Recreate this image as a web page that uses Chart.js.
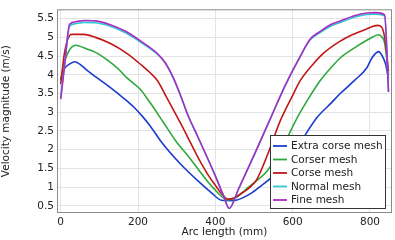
<!DOCTYPE html>
<html>
<head>
<meta charset="utf-8">
<script src="https://cdn.jsdelivr.net/npm/chart.js@4.4.1/dist/chart.umd.min.js"></script>
<style>
  html, body { margin: 0; padding: 0; background: #fff; }
  #wrap { width: 395px; height: 240px; position: relative; }
</style>
</head>
<body>
<div id="wrap"><canvas id="chart"></canvas></div>
<script>
// --- DATA ---
const seriesNames = ['Extra corse mesh', 'Corser mesh', 'Corse mesh', 'Normal mesh', 'Fine mesh'];
const xTicks = [0, 200, 400, 600, 800];
const yTicks = [0.5, 1, 1.5, 2, 2.5, 3, 3.5, 4, 4.5, 5, 5.5];

const extraX = [0, 10, 25, 36, 50, 66, 90, 127, 160, 187, 213, 231, 261, 308, 360, 390, 416, 446, 490, 520, 550, 580, 620, 662, 700, 723, 760, 792, 805, 822, 832, 840, 848];
const extraY = [3.9, 4.17, 4.3, 4.35, 4.28, 4.14, 3.95, 3.67, 3.4, 3.16, 2.87, 2.64, 2.2, 1.64, 1.12, 0.85, 0.65, 0.64, 0.82, 1.05, 1.3, 1.65, 2.2, 2.85, 3.25, 3.5, 3.85, 4.19, 4.45, 4.62, 4.5, 4.3, 3.9];

const corserX = [0, 10, 25, 40, 60, 90, 120, 150, 170, 205, 231, 265, 300, 326, 360, 380, 400, 420, 432, 450, 480, 510, 533, 560, 585, 610, 640, 671, 700, 723, 760, 800, 822, 830, 838, 848];
const corserY = [3.85, 4.35, 4.7, 4.79, 4.72, 4.6, 4.4, 4.15, 3.93, 3.62, 3.26, 2.74, 2.2, 1.88, 1.42, 1.15, 0.92, 0.72, 0.66, 0.7, 0.95, 1.2, 1.42, 1.85, 2.3, 2.82, 3.35, 3.84, 4.2, 4.45, 4.72, 4.97, 5.07, 5.02, 4.85, 4.0];

const corseX = [0, 10, 28, 58, 90, 130, 170, 210, 230, 250, 274, 313, 340, 360, 380, 400, 420, 432, 450, 470, 490, 507, 540, 567, 600, 620, 650, 680, 720, 750, 790, 820, 830, 838, 848];
const corseY = [3.75, 4.6, 5.08, 5.08, 5.0, 4.83, 4.58, 4.25, 4.07, 3.85, 3.4, 2.65, 2.1, 1.7, 1.35, 1.05, 0.78, 0.68, 0.72, 0.85, 1.0, 1.2, 2.0, 2.75, 3.45, 3.85, 4.25, 4.58, 4.88, 5.05, 5.22, 5.32, 5.28, 5.0, 4.1];

const normalX = [0, 10, 23, 40, 60, 90, 130, 170, 210, 250, 270, 290, 310, 330, 350, 370, 400, 420, 436, 460, 500, 541, 580, 620, 645, 670, 700, 723, 760, 792, 815, 838, 848];
const normalY = [3.4, 4.25, 5.3, 5.37, 5.4, 5.39, 5.29, 5.11, 4.85, 4.55, 4.32, 3.94, 3.45, 2.9, 2.45, 2.0, 1.3, 0.8, 0.43, 0.95, 1.85, 2.8, 3.7, 4.5, 4.93, 5.12, 5.31, 5.4, 5.54, 5.61, 5.62, 5.57, 3.55];

const fineX = [0, 10, 23, 40, 60, 90, 130, 170, 210, 250, 270, 290, 310, 330, 350, 370, 400, 420, 436, 460, 500, 541, 580, 620, 645, 670, 700, 723, 760, 792, 815, 838, 848];
const fineY = [3.35, 4.25, 5.35, 5.42, 5.45, 5.44, 5.33, 5.15, 4.88, 4.57, 4.33, 3.95, 3.45, 2.9, 2.45, 2.0, 1.3, 0.8, 0.43, 0.95, 1.85, 2.8, 3.7, 4.5, 4.95, 5.15, 5.35, 5.44, 5.58, 5.65, 5.66, 5.6, 3.54];

const colors = ['#1a3ccc', '#2ea83c', '#c01818', '#30c8d0', '#a92cc4'];

const FONT = 'DejaVu Sans';
const TEXT = '#222';

function toPoints(xs, ys) {
    return xs.map((x, i) => ({ x: x, y: ys[i] }));
}

const allX = [extraX, corserX, corseX, normalX, fineX];
const allY = [extraY, corserY, corseY, normalY, fineY];

const datasets = seriesNames.map((name, i) => ({
    label: name,
    data: toPoints(allX[i], allY[i]),
    borderColor: colors[i],
    backgroundColor: colors[i],
    borderWidth: 1.6,
    pointRadius: 0,
    cubicInterpolationMode: 'monotone',
    order: seriesNames.length - i  // fine mesh on top
}));

// legend box + plot frame, drawn by hand (legend sits inside the plot)
const framePlugin = {
    id: 'frameAndLegend',
    afterDatasetsDraw(chart) {
        const ctx = chart.ctx;
        const a = chart.chartArea;
        ctx.save();
        ctx.strokeStyle = '#8a8a8a';
        ctx.lineWidth = 1;
        ctx.strokeRect(a.left + 0.5, a.top + 0.5, a.right - a.left - 1, a.bottom - a.top - 1);

        // legend
        const lx = 270, ly = 135, lw = 115, lh = 73;
        ctx.fillStyle = '#fff';
        ctx.fillRect(lx, ly, lw, lh);
        ctx.strokeStyle = '#333';
        ctx.strokeRect(lx + 0.5, ly + 0.5, lw, lh);
        ctx.font = '10.5px "' + FONT + '"';
        ctx.textBaseline = 'middle';
        ctx.textAlign = 'left';
        seriesNames.forEach((name, i) => {
            const y = ly + 11 + i * 13.5;
            ctx.strokeStyle = colors[i];
            ctx.lineWidth = 1.8;
            ctx.beginPath();
            ctx.moveTo(lx + 3, y);
            ctx.lineTo(lx + 17, y);
            ctx.stroke();
            ctx.fillStyle = TEXT;
            ctx.fillText(name, lx + 21, y + 0.5);
        });
        ctx.restore();
    }
};

new Chart(document.getElementById('chart'), {
    type: 'line',
    data: { datasets: datasets },
    options: {
        responsive: true,
        maintainAspectRatio: false,
        animation: false,
        layout: { padding: { top: 3, right: 3, left: 0, bottom: 0 } },
        plugins: {
            legend: { display: false },
            tooltip: { enabled: false }
        },
        scales: {
            x: {
                type: 'linear',
                min: -9.6,
                max: 857,
                afterBuildTicks: scale => { scale.ticks = xTicks.map(v => ({ value: v })); },
                afterFit: scale => { scale.height = 27; },
                grid: { color: '#e4e4e4', drawTicks: false },
                border: { display: false },
                ticks: { color: TEXT, font: { family: FONT, size: 10.5 }, padding: 3, maxRotation: 0, callback: v => String(v) },
                title: { display: true, text: 'Arc length (mm)', color: TEXT, font: { family: FONT, size: 10.5 }, padding: { top: 0, bottom: 1 } }
            },
            y: {
                type: 'linear',
                min: 0.31,
                max: 5.75,
                afterBuildTicks: scale => { scale.ticks = yTicks.map(v => ({ value: v })); },
                afterFit: scale => { scale.width = 57; },
                grid: { color: '#e4e4e4', drawTicks: false },
                border: { display: false },
                ticks: { color: TEXT, font: { family: FONT, size: 10.5 }, padding: 3, callback: v => String(v) },
                title: { display: true, text: 'Velocity magnitude (m/s)', color: TEXT, font: { family: FONT, size: 10.5 }, padding: { top: 0, bottom: 0 } }
            }
        }
    },
    plugins: [framePlugin]
});
</script>
</body>
</html>
